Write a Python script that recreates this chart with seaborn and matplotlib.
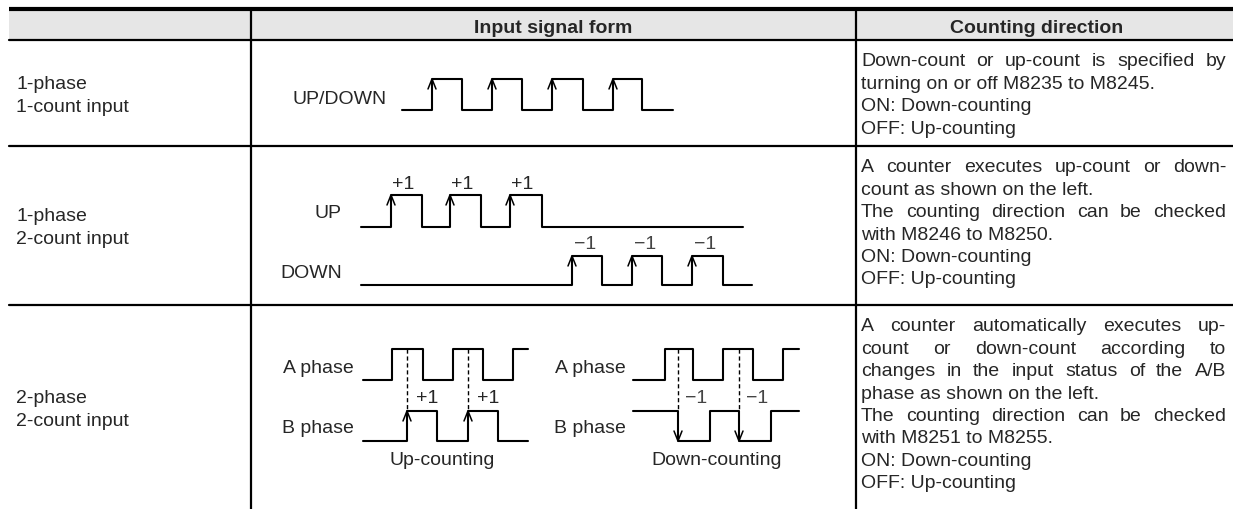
import numpy as np
import pandas as pd
import matplotlib
matplotlib.use("Agg")
import matplotlib.pyplot as plt
from matplotlib.patches import Rectangle
import seaborn as sns

sns.set_theme(style="white")
plt.rcParams['font.family'] = ['Liberation Sans', 'DejaVu Sans']

# ---------------- table content ----------------
headers = ["Input signal form", "Counting direction"]
row_names = [["1-phase", "1-count input"],
             ["1-phase", "2-count input"],
             ["2-phase", "2-count input"]]

# (line, justified)
direction_text = [
    [("Down-count or up-count is specified by", True),
     ("turning on or off M8235 to M8245.", False),
     ("ON: Down-counting", False),
     ("OFF: Up-counting", False)],
    [("A counter executes up-count or down-", True),
     ("count as shown on the left.", False),
     ("The counting direction can be checked", True),
     ("with M8246 to M8250.", False),
     ("ON: Down-counting", False),
     ("OFF: Up-counting", False)],
    [("A counter automatically executes up-", True),
     ("count or down-count according to", True),
     ("changes in the input status of the A/B", True),
     ("phase as shown on the left.", False),
     ("The counting direction can be checked", True),
     ("with M8251 to M8255.", False),
     ("ON: Down-counting", False),
     ("OFF: Up-counting", False)],
]

# ---------------- waveform edges ----------------
# 1-phase 1-count input (UP/DOWN)
ud_span = [402, 673]
ud_rise = [432, 492, 552, 613]
ud_fall = [462, 522, 583, 642]

# 1-phase 2-count input
up_span = [361, 743]
up_rise = [391, 450, 510]
up_fall = [422, 481, 542]
dn_span = [361, 752]
dn_rise = [572, 632, 692]
dn_fall = [602, 662, 723]

# 2-phase 2-count input, up-counting
upc_span = [363, 528]
upc_a_rise = [392, 453, 513]
upc_a_fall = [423, 483]
upc_b_rise = [407, 468]
upc_b_fall = [437, 498]

# 2-phase 2-count input, down-counting
dnc_span = [633, 799]
dnc_a_rise = [665, 723, 783]
dnc_a_fall = [693, 753]
dnc_b_rise = [710, 771]
dnc_b_fall = [678, 739]

# ---------------- layout ----------------
W, H = 1233, 510
FS = 14
LW = 1.5
x_left, col1, col2 = 9, 251, 856
y_top, y_head = 10, 41
row_lines = [147, 306]
row_bounds = [(y_head, 147), (147, 306), (306, H)]
txt_x0, txt_x1 = 861, 1226
line_gap = 22.4

fig = plt.figure(figsize=(W / 100, H / 100), dpi=100)
ax = fig.add_axes([0, 0, 1, 1])
renderer = fig.canvas.get_renderer()


def steps(span, rises, falls, low, high, start_high=False):
    edges = sorted([(x, 1) for x in rises] + [(x, 0) for x in falls])
    lvl = 1 if start_high else 0
    xs, ls = [span[0]], [lvl]
    for x, new in edges:
        xs += [x, x]
        ls += [lvl, new]
        lvl = new
    xs.append(span[1])
    ls.append(lvl)
    ys = [low - l * (low - high) for l in ls]
    return pd.DataFrame({"x": xs, "y": ys})


def wave(span, rises, falls, low, high, start_high=False):
    d = steps(span, rises, falls, low, high, start_high)
    sns.lineplot(data=d, x="x", y="y", sort=False, estimator=None,
                 color="black", lw=LW, ax=ax)


def arrow_head(x, tip, down=False):
    h = -10 if down else 10
    ax.plot([x - 4, x, x + 4], [tip + h, tip, tip + h], color="black",
            lw=1.1, solid_joinstyle="miter")


def text_w(s, **kw):
    t = ax.text(0, 0, s, fontsize=FS, **kw)
    w = t.get_window_extent(renderer).width
    t.remove()
    return w


# ---------------- table frame ----------------
ax.add_patch(Rectangle((x_left, y_top), W - x_left, y_head - y_top,
                       facecolor="#e6e6e6", edgecolor="none", zorder=0))
ax.plot([x_left, W], [y_top, y_top], color="black", lw=3, solid_capstyle="butt")
ax.plot([x_left, W], [y_head, y_head], color="black", lw=1.6)
for y in row_lines:
    ax.plot([x_left, W], [y, y], color="black", lw=1.6)
for x in (col1, col2):
    ax.plot([x, x], [y_top, H], color="black", lw=1.6)

ax.text((col1 + col2) / 2, (y_top + y_head) / 2 + 1, headers[0], fontsize=FS,
        fontweight="bold", ha="center", va="center_baseline")
ax.text((col2 + W) / 2 - 8, (y_top + y_head) / 2 + 1, headers[1], fontsize=FS,
        fontweight="bold", ha="center", va="center_baseline")

# row names
for (t, b), names in zip(row_bounds, row_names):
    mid = (t + b) / 2 if b < H else 408
    ax.text(16, mid - 11.5, names[0], fontsize=FS, va="center_baseline")
    ax.text(16, mid + 11.5, names[1], fontsize=FS, va="center_baseline")

# counting direction text (justified like the manual)
for (t, b), lines in zip(row_bounds, direction_text):
    y = t + 19
    for line, just in lines:
        words = line.split(" ")
        if just and len(words) > 1:
            widths = [text_w(w) for w in words]
            gap = (txt_x1 - txt_x0 - sum(widths)) / (len(words) - 1)
            x = txt_x0
            for w, wd in zip(words, widths):
                ax.text(x, y, w, fontsize=FS, va="center_baseline")
                x += wd + gap
        else:
            ax.text(txt_x0, y, line, fontsize=FS, va="center_baseline")
        y += line_gap

# ---------------- row 1: UP/DOWN ----------------
wave(ud_span, ud_rise, ud_fall, 111, 80)
for x in ud_rise:
    arrow_head(x, 80)
ax.text(387, 97, "UP/DOWN", fontsize=FS, ha="right", va="center_baseline")

# ---------------- row 2: UP / DOWN ----------------
wave(up_span, up_rise, up_fall, 228, 196)
wave(dn_span, dn_rise, dn_fall, 286, 257)
for x in up_rise:
    arrow_head(x, 196)
    ax.text(x + 12, 183, "+1", fontsize=FS, ha="center", va="center_baseline")
for x in dn_rise:
    arrow_head(x, 257)
    ax.text(x + 13, 243, "\u22121", fontsize=FS, ha="center", va="center_baseline",
            color="#444444")
ax.text(342, 212, "UP", fontsize=FS, ha="right", va="center_baseline")
ax.text(342, 272, "DOWN", fontsize=FS, ha="right", va="center_baseline")

# ---------------- row 3: A/B phase ----------------
a_low, a_high, b_low, b_high = 381, 350, 442, 412
wave(upc_span, upc_a_rise, upc_a_fall, a_low, a_high)
wave(upc_span, upc_b_rise, upc_b_fall, b_low, b_high)
wave(dnc_span, dnc_a_rise, dnc_a_fall, a_low, a_high)
wave(dnc_span, dnc_b_rise, dnc_b_fall, b_low, b_high, start_high=True)

for x in upc_b_rise:
    ax.plot([x, x], [a_high, b_high], color="black", lw=1.0, ls=(0, (3, 2)))
    arrow_head(x, b_high)
    ax.text(x + 20, 397, "+1", fontsize=FS, ha="center", va="center_baseline")
for x in dnc_b_fall:
    ax.plot([x, x], [a_high, b_high], color="black", lw=1.0, ls=(0, (3, 2)))
    arrow_head(x, b_low, down=True)
    ax.text(x + 18, 397, "\u22121", fontsize=FS, ha="center", va="center_baseline",
            color="#444444")

for xr in (354, 626):
    ax.text(xr, 367, "A phase", fontsize=FS, ha="right", va="center_baseline")
    ax.text(xr, 427, "B phase", fontsize=FS, ha="right", va="center_baseline")
ax.text(sum(upc_span) / 2 - 3, 459, "Up-counting", fontsize=FS, ha="center",
        va="center_baseline")
ax.text(sum(dnc_span) / 2 + 1, 459, "Down-counting", fontsize=FS, ha="center",
        va="center_baseline")

ax.set_xlim(0, W)
ax.set_ylim(H, 0)
ax.axis("off")

fig.savefig("out.png", dpi=100)
